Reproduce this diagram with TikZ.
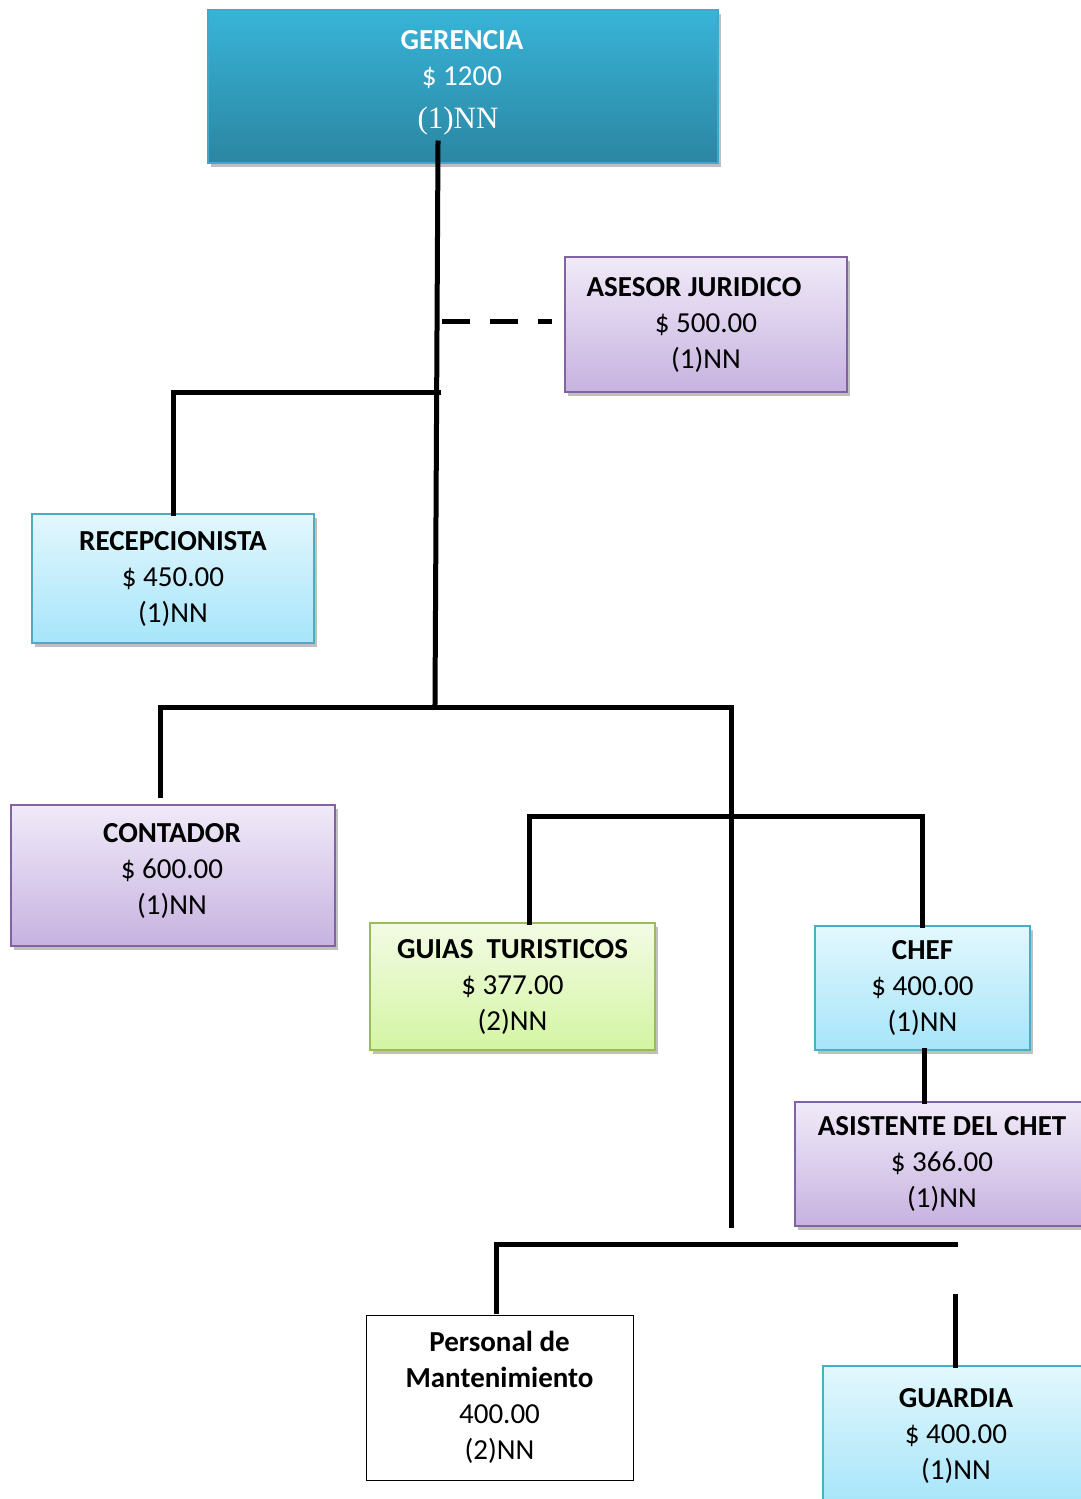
\documentclass[tikz,border=0pt]{standalone}
\usepackage{fontspec}
\setmainfont{Carlito}
\newfontfamily\serifnn{Liberation Serif}
\usetikzlibrary{shadows}
\definecolor{gerTop}{HTML}{38B4D8}
\definecolor{gerBot}{HTML}{2B86A2}
\definecolor{gerLine}{HTML}{3FA9CB}
\definecolor{purTop}{HTML}{F0EAF8}
\definecolor{purBot}{HTML}{C7B2E0}
\definecolor{purLine}{HTML}{8064A2}
\definecolor{bluTop}{HTML}{E3F7FD}
\definecolor{bluBot}{HTML}{A6E5FA}
\definecolor{bluLine}{HTML}{4BACC6}
\definecolor{grnTop}{HTML}{F3FBE4}
\definecolor{grnBot}{HTML}{D3F5A2}
\definecolor{grnLine}{HTML}{9BBB59}
\tikzset{
  x=1pt, y=-1pt,
  orgbox/.style={draw, line width=1.6pt, align=center, inner sep=0pt,
    font=\fontsize{29}{36}\selectfont,
    drop shadow={shadow xshift=3pt, shadow yshift=-4pt, opacity=0.25, fill=black}},
  purplebox/.style={orgbox, draw=purLine, top color=purTop, bottom color=purBot},
  bluebox/.style={orgbox, draw=bluLine, top color=bluTop, bottom color=bluBot},
  greenbox/.style={orgbox, draw=grnLine, top color=grnTop, bottom color=grnBot},
  plainbox/.style={draw=black, line width=1pt, fill=white, align=center, inner sep=0pt,
    font=\fontsize{29}{36}\selectfont},
  boxtext/.style={align=center, inner sep=0pt, font=\fontsize{29}{36}\selectfont},
  link/.style={line width=5pt, black, line cap=rect, line join=miter},
  dashlink/.style={line width=5pt, black, dash pattern=on 28pt off 20pt},
}
\begin{document}
\begin{tikzpicture}
\useasboundingbox (0,0) rectangle (1080,1499);
% boxes
\node[orgbox, draw=gerLine, top color=gerTop, bottom color=gerBot,
      minimum width=510pt, minimum height=153pt] (ger) at (463,86.5) {};
\node[boxtext, text=white] (gertext) at (462,83)
  {\textbf{GERENCIA}\\
   \$ 1200\\[7pt]
   \hspace*{-8pt}\serifnn\fontsize{31}{36}\selectfont(1)NN};
\node[purplebox, minimum width=282pt, minimum height=135pt] (ase) at (706,324.5)
  {\textbf{ASESOR JURIDICO}\hspace*{24pt}\\ \$ 500.00\\ (1)NN};
\node[bluebox, minimum width=282pt, minimum height=129pt] (rec) at (173,578.5)
  {\textbf{RECEPCIONISTA}\\ \$ 450.00\\ (1)NN};
\node[purplebox, minimum width=324pt, minimum height=141pt] (con) at (173,875.5) {};
\node[boxtext] (context) at (172,871)
  {\textbf{CONTADOR}\\ \$ 600.00\\ (1)NN};
\node[greenbox, minimum width=285pt, minimum height=127pt] (gui) at (512.5,986.5)
  {\textbf{GUIAS\ \ TURISTICOS}\\ \$ 377.00\\ (2)NN};
\node[bluebox, minimum width=215pt, minimum height=124pt] (chef) at (922.5,988)
  {\textbf{CHEF}\\ \$ 400.00\\ (1)NN};
\node[purplebox, minimum width=294pt, minimum height=124pt] (asi) at (942,1164)
  {\textbf{ASISTENTE DEL CHET}\\ \$ 366.00\\ (1)NN};
\node[plainbox, minimum width=267pt, minimum height=165pt] (per) at (499.5,1397.5)
  {\textbf{Personal de}\\ \textbf{Mantenimiento}\\ 400.00\\ (2)NN};
\node[bluebox, minimum width=266pt, minimum height=140pt] (gua) at (956,1436)
  {\textbf{GUARDIA}\\ \$ 400.00\\ (1)NN};
% junction coordinates
\coordinate (trTop) at (438,143);
\coordinate (trBot) at (435,703);
\coordinate (jRec) at (438,392);
\coordinate (jRecL) at (173,392);
\coordinate (jAse) at (442,321);
\coordinate (jAseR) at (552,321);
\coordinate (h2L) at (160,707);
\coordinate (h2R) at (731,707);
\coordinate (h2Bot) at (731,1225);
\coordinate (h3L) at (529,816);
\coordinate (h3R) at (922,816);
\coordinate (h4L) at (496,1244);
\coordinate (h4R) at (955,1244);
\coordinate (guaTop) at (955,1296);
% connectors
\draw[link] (trTop) -- (trBot);
\draw[dashlink] (jAse) -- (jAseR);
\draw[link] (jRec) -- (jRecL) -- (rec.north);
\draw[link] (trBot |- h2L) -- (h2L) -- (160,795);
\draw[link] (h2L) -- (h2R) -- (h2Bot);
\draw[link] (gui.north -| h3L) -- (h3L) -- (h3R) -- (chef.north -| h3R);
\draw[link] (chef.south -| 924,0) -- (asi.north -| 924,0);
\draw[link] (per.north -| h4L) ++(0,-3) -- (h4L) -- (h4R);
\draw[link] (guaTop) -- (gua.north -| guaTop);
\end{tikzpicture}
\end{document}
